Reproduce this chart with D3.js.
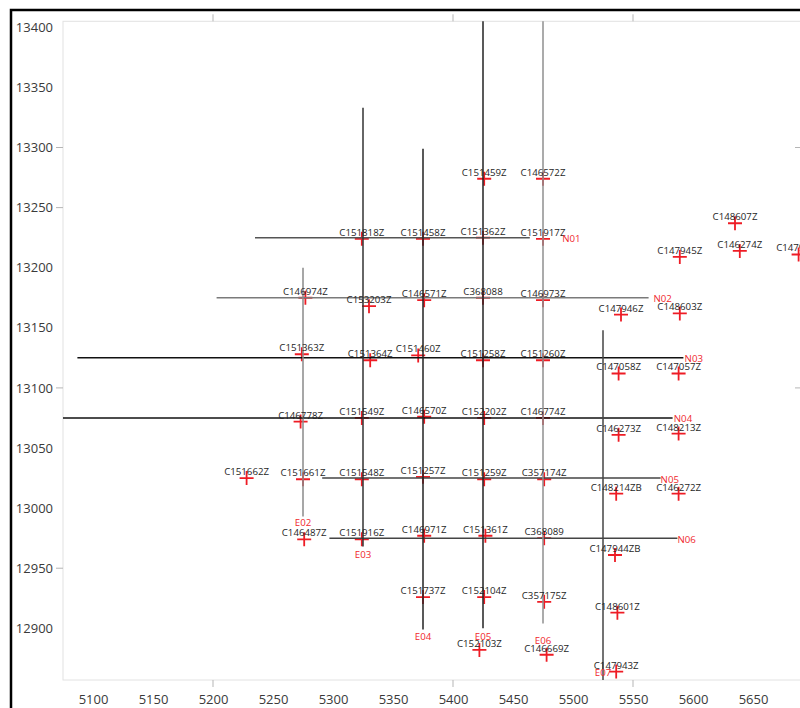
<!DOCTYPE html>
<html>
<head>
<meta charset="utf-8">
<script src="https://cdn.jsdelivr.net/npm/d3@7"></script>
<style>
  html, body { margin: 0; padding: 0; background: #fff; }
  svg { display: block; }
</style>
</head>
<body>
<svg id="chart" width="800" height="708"></svg>
<script>
// ---- data ----
const xTicks = [5100, 5150, 5200, 5250, 5300, 5350, 5400, 5450, 5500, 5550, 5600, 5650];
const yTicks = [12900, 12950, 13000, 13050, 13100, 13150, 13200, 13250, 13300, 13350, 13400];
const xMinorTicks = [5200, 5400, 5550];
const yMinorTicks = [13300, 13250, 13100, 12950];
const yRightTicks = [13300, 13100];

const pointNames = [
  "C151459Z","C146572Z","C151818Z","C151458Z","C151362Z","C151917Z","C148607Z","C146274Z","C147945Z","C147947Z",
  "C146974Z","C153203Z","C146571Z","C368088","C146973Z","C147946Z","C148603Z",
  "C151363Z","C151364Z","C151460Z","C151258Z","C151260Z","C147058Z","C147057Z",
  "C146778Z","C151549Z","C146570Z","C152202Z","C146774Z","C146273Z","C148213Z",
  "C151662Z","C151661Z","C151548Z","C151257Z","C151259Z","C357174Z","C148214ZB","C146272Z",
  "C146487Z","C151916Z","C146971Z","C151361Z","C368089","C147944ZB",
  "C151737Z","C152104Z","C357175Z","C148601Z","C152103Z","C146669Z","C147943Z"
];
const pointX = [
  5426, 5475, 5324, 5375, 5425, 5475, 5635, 5639, 5589, 5688,
  5277, 5330, 5376, 5425, 5475, 5540, 5589,
  5274, 5331, 5371, 5425, 5475, 5538, 5588,
  5273, 5324, 5376, 5426, 5475, 5538, 5588,
  5228, 5275, 5324, 5375, 5426, 5476, 5536, 5588,
  5276, 5324, 5376, 5427, 5476, 5535,
  5375, 5426, 5476, 5537, 5422, 5478, 5536
];
const pointY = [
  13274, 13274, 13224, 13224, 13225, 13224, 13237, 13214, 13209, 13211,
  13175, 13168, 13173, 13175, 13173, 13161, 13162,
  13128, 13123, 13127, 13123, 13123, 13112, 13112,
  13072, 13075, 13076, 13075, 13075, 13061, 13062,
  13025, 13024, 13024, 13026, 13024, 13024, 13012, 13012,
  12974, 12974, 12977, 12977, 12975, 12961,
  12926, 12926, 12922, 12913, 12882, 12878, 12864
];

// north-south lines (E)
const eNames  = ["E02", "E03", "E04", "E05", "E06", "E07"];
const eX      = [5275, 5325, 5375, 5425, 5475, 5525];
const eTop    = [13200, 13333, 13299, 13405, 13405, 13148];
const eBottom = [12993, 12968, 12899, 12900, 12904, 12857];
const eLabelY = [12988, 12961, 12893, 12893, 12890, 12863];
const eColor  = ["#8a8a8a", "#333333", "#222222", "#222222", "#8f8f8f", "#444444"];

// east-west lines (N)
const nNames  = ["N01", "N02", "N03", "N04", "N05", "N06"];
const nY      = [13225, 13175, 13125, 13075, 13025, 12975];
const nLeft   = [5235, 5203, 5087, 5075, 5291, 5297];
const nRight  = [5464, 5563, 5592, 5583, 5573, 5587];
const nLabelX = [5491, 5567, 5593, 5584, 5573, 5587];
const nColor  = ["#555555", "#7a7a7a", "#111111", "#111111", "#444444", "#444444"];

// ---- layout ----
const svg = d3.select("#chart");
const x = d3.scaleLinear().domain([5075, 5690]).range([63, 801]);
const y = d3.scaleLinear().domain([12857, 13405]).range([680, 21.3]);

// outer frame
svg.append("rect")
  .attr("x", 11).attr("y", 10).attr("width", 830).attr("height", 720)
  .attr("fill", "none").attr("stroke", "#000").attr("stroke-width", 2.5);

// plot border (light)
svg.append("rect")
  .attr("x", x.range()[0]).attr("y", y.range()[1])
  .attr("width", x.range()[1] - x.range()[0]).attr("height", y.range()[0] - y.range()[1])
  .attr("fill", "none").attr("stroke", "#e2e2e2").attr("stroke-width", 1);

// axes
const font = "'Open Sans', 'Liberation Sans', sans-serif";
const gx = svg.append("g").attr("transform", `translate(0,${y.range()[0]})`)
  .call(d3.axisBottom(x).tickValues(xTicks).tickSize(0).tickPadding(15).tickFormat(d3.format("d")));
const gy = svg.append("g").attr("transform", `translate(${x.range()[0]},0)`)
  .call(d3.axisLeft(y).tickValues(yTicks).tickSize(0).tickPadding(10).tickFormat(d3.format("d")));
[gx, gy].forEach(g => {
  g.select(".domain").remove();
  g.selectAll("text").attr("fill", "#3a3a3a").style("font-family", font).style("font-size", "13px");
});

// small ticks
const tickG = svg.append("g").attr("stroke", "#b5b5b5").attr("stroke-width", 1);
xMinorTicks.forEach(v => {
  tickG.append("line").attr("x1", x(v)).attr("x2", x(v)).attr("y1", y.range()[0]).attr("y2", y.range()[0] + 7);
  tickG.append("line").attr("x1", x(v)).attr("x2", x(v)).attr("y1", y.range()[1]).attr("y2", y.range()[1] - 7);
});
yMinorTicks.forEach(v => {
  tickG.append("line").attr("x1", x.range()[0] - 7).attr("x2", x.range()[0]).attr("y1", y(v)).attr("y2", y(v));
});
yRightTicks.forEach(v => {
  tickG.append("line").attr("x1", 795).attr("x2", 801).attr("y1", y(v)).attr("y2", y(v));
});

const points = pointNames.map((n, i) => ({ name: n, x: pointX[i], y: pointY[i] }));

// crosses
svg.append("g").selectAll("path").data(points).join("path")
  .attr("transform", d => `translate(${x(d.x)},${y(d.y)})`)
  .attr("d", "M-7,0H7M0,-7V7")
  .attr("stroke", "#ee1c25").attr("stroke-width", 1.8).attr("fill", "none");

// survey lines
const eLines = eNames.map((n, i) => ({ name: n, x: eX[i], y1: eTop[i], y2: eBottom[i], ly: eLabelY[i], c: eColor[i] }));
const nLines = nNames.map((n, i) => ({ name: n, y: nY[i], x1: nLeft[i], x2: nRight[i], lx: nLabelX[i], c: nColor[i] }));

svg.append("g").selectAll("line").data(nLines).join("line")
  .attr("x1", d => x(d.x1)).attr("x2", d => x(d.x2))
  .attr("y1", d => y(d.y)).attr("y2", d => y(d.y))
  .attr("stroke", d => d.c).attr("stroke-width", 1.5);

svg.append("g").selectAll("line").data(eLines).join("line")
  .attr("x1", d => x(d.x)).attr("x2", d => x(d.x))
  .attr("y1", d => y(Math.min(d.y1, 13405))).attr("y2", d => y(d.y2))
  .attr("stroke", d => d.c).attr("stroke-width", 1.5);

// point labels
svg.append("g").selectAll("text").data(points).join("text")
  .attr("x", d => x(d.x)).attr("y", d => y(d.y) - 3)
  .attr("text-anchor", "middle")
  .style("font-family", font).style("font-size", "9.7px")
  .attr("fill", "#1e1e1e")
  .text(d => d.name);

// line labels
svg.append("g").selectAll("text").data(eLines).join("text")
  .attr("x", d => x(d.x)).attr("y", d => y(d.ly))
  .attr("text-anchor", "middle").attr("dominant-baseline", "central")
  .style("font-family", font).style("font-size", "9.7px")
  .attr("fill", "#f0282d")
  .text(d => d.name);

svg.append("g").selectAll("text").data(nLines).join("text")
  .attr("x", d => x(d.lx)).attr("y", d => y(d.y) + 1)
  .attr("text-anchor", "start").attr("dominant-baseline", "central")
  .style("font-family", font).style("font-size", "9.7px")
  .attr("fill", "#f0282d")
  .text(d => d.name);
</script>
</body>
</html>
